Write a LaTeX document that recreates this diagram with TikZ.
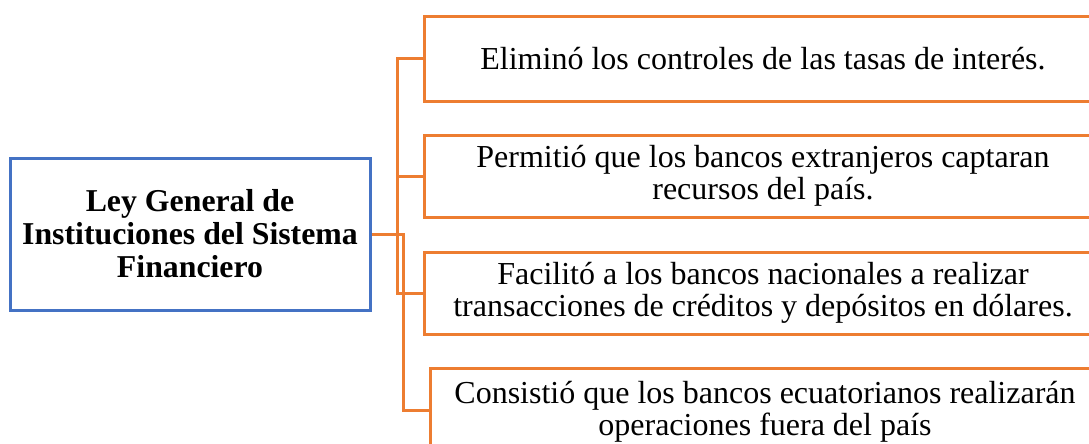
\documentclass[tikz,border=0pt]{standalone}
\usepackage{fontspec}
\setmainfont{Liberation Serif}
\definecolor{borange}{RGB}{237,125,49}
\definecolor{bblue}{RGB}{68,114,196}
\tikzset{
  leaf/.style={draw=borange, line width=3pt, minimum width=678pt, minimum height=82pt,
    align=center, inner sep=0pt, font=\fontsize{32}{31.5}\selectfont},
  root/.style={draw=bblue, line width=3pt, minimum width=360pt, minimum height=152pt,
    align=center, inner sep=0pt, font=\fontsize{31.8}{33}\selectfont\bfseries},
  link/.style={draw=borange, line width=3pt}
}
\begin{document}
\begin{tikzpicture}[x=1pt,y=-1pt]
\useasboundingbox (0,0) rectangle (1089,444);
\clip (0,0) rectangle (1089,444);
\node[root] (L) at (190,234) {Ley General de\\Instituciones del Sistema\\Financiero};
\node[leaf, minimum height=84pt] (b1) at (763,59) {Eliminó los controles de las tasas de interés.};
\node[leaf] (b2) at (763,176) {Permitió que los bancos extranjeros captaran\\recursos del país.};
\node[leaf] (b3) at (763,293) {Facilitó a los bancos nacionales a realizar\\transacciones de créditos y depósitos en dólares.};
\node[leaf, minimum width=670pt, minimum height=88pt] (b4) at (765,412) {Consistió que los bancos ecuatorianos realizarán\\operaciones fuera del país};
\coordinate (t1) at (397,59);
\coordinate (t3) at (397,293);
\coordinate (t4) at (403,410);
\draw[link] (b1.west) -- (t1) -- (t3) -- (b3.west);
\draw[link] (b2.west) -- (t1 |- b2.west);
\draw[link] (L.east) -| (t4) -- (t4 -| b4.west);
\end{tikzpicture}
\end{document}
